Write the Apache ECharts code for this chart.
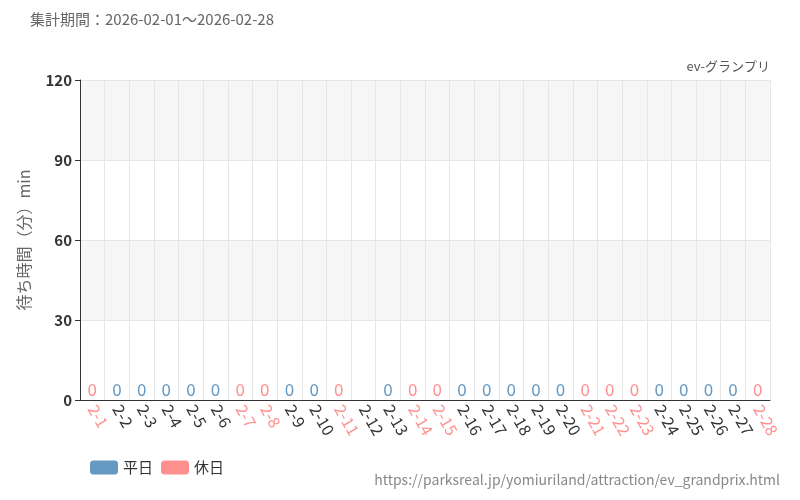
<!DOCTYPE html>
<html><head><meta charset="utf-8">
<script src="https://cdn.jsdelivr.net/npm/echarts@6/dist/echarts.min.js"></script>
<style>body{margin:0}#c{width:800px;height:500px}</style></head>
<body><div id="c"></div>
<script>
var days = []
for (var d = 1; d <= 28; d++) days.push('2-' + d)
var holidays = ['2-1','2-7','2-8','2-11','2-14','2-15','2-21','2-22','2-23','2-28']
var waitValues = [0,0,0,0,0,0,0,0,0,0,0,null,0,0,0,0,0,0,0,0,0,0,0,0,0,0,0,0]

var BLUE = '#6599c2', RED = '#ff9090'
var weekday = waitValues.map((v, i) => holidays.indexOf(days[i]) < 0 ? v : null)
var holiday = waitValues.map((v, i) => holidays.indexOf(days[i]) >= 0 ? v : null)

function series(name, data, color) {
  return {
    name: name, type: 'bar', stack: 'w', data: data, barWidth: '70%',
    itemStyle: {color: color},
    label: {show: true, position: 'top', color: color, fontSize: 17, distance: 2,
      textBorderColor: '#fff', textBorderWidth: 3,
      formatter: p => p.value == null ? '' : p.value}
  }
}

var chart = echarts.init(document.getElementById('c'))
chart.setOption({
  animation: false,
  textStyle: {fontFamily: 'Noto Sans CJK JP'},
  graphic: [
    {type: 'text', left: 30, top: 12, style: {text: '集計期間：2026-02-01～2026-02-28', fill: '#666', fontSize: 15, fontFamily: 'Noto Sans CJK JP'}},
    {type: 'text', right: 30, top: 60, style: {text: 'ev-グランプリ', fill: '#555', fontSize: 13, fontFamily: 'Noto Sans CJK JP'}},
    {type: 'text', right: 20, top: 473, style: {text: 'https://parksreal.jp/yomiuriland/attraction/ev_grandprix.html', fill: '#888', fontSize: 14, fontFamily: 'Noto Sans CJK JP'}}
  ],
  legend: {left: 85, bottom: 20, itemWidth: 28, itemHeight: 14, textStyle: {fontSize: 15, color: '#333'},
    data: ['平日', '休日']},
  grid: {left: 80, right: 30, top: 80, bottom: 100},
  xAxis: {
    type: 'category', data: days,
    axisLine: {lineStyle: {color: '#333'}},
    axisTick: {alignWithLabel: true},
    splitLine: {show: true, lineStyle: {color: '#e6e6e6'}},
    axisLabel: {rotate: -60, interval: 0, fontSize: 16, margin: 6,
      color: (v) => holidays.indexOf(v) >= 0 ? RED : '#333'}
  },
  yAxis: {
    type: 'value', min: 0, max: 120, interval: 30,
    name: '待ち時間（分）min', nameLocation: 'middle', nameGap: 48, nameTextStyle: {fontSize: 16, color: '#666'},
    axisLine: {show: true, lineStyle: {color: '#333'}},
    axisTick: {show: true},
    axisLabel: {fontSize: 15, color: '#333', fontWeight: 'bold'},
    splitLine: {lineStyle: {color: '#e6e6e6'}},
    splitArea: {show: true, areaStyle: {color: ['#fff', '#f6f6f6']}}
  },
  series: [series('平日', weekday, BLUE), series('休日', holiday, RED)]
})
</script></body></html>
